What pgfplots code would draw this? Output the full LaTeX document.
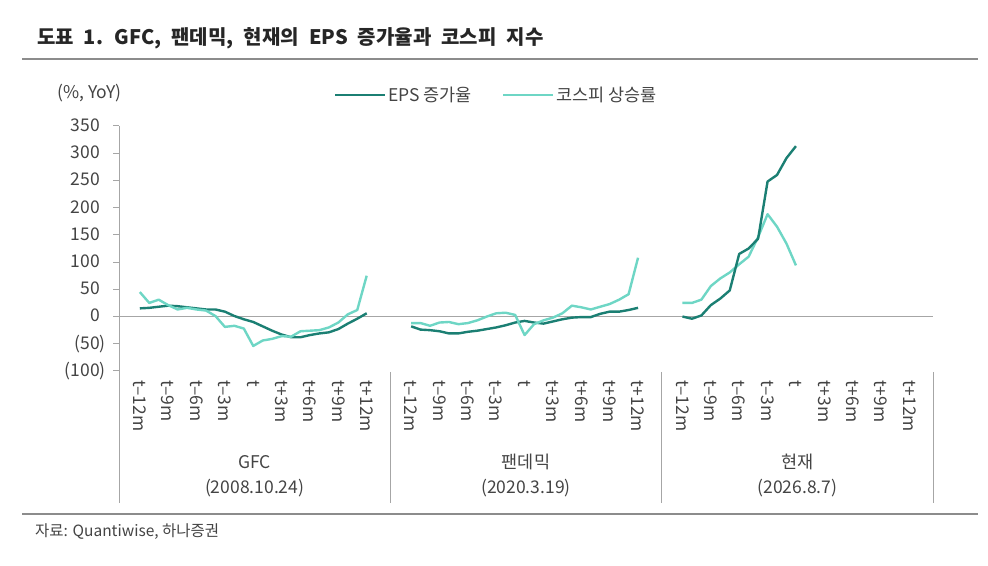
\documentclass[border=0pt]{standalone}
\usepackage{fontspec}
\setmainfont{Noto Sans CJK KR}
\usepackage{pgfplots}
\pgfplotsset{compat=1.18}
\usepackage{pgfplotstable}
\definecolor{epsc}{HTML}{1B7F73}
\definecolor{kosc}{HTML}{6ED6C5}
\definecolor{txt}{HTML}{444444}
\definecolor{axc}{HTML}{A6A6A6}
\definecolor{rulec}{HTML}{8C8C8C}

\pgfplotstableread{
m eps kospi
-12 15 45
-11 16 25
-10 18 31
-9 20 21
-8 19 13
-7 17 16
-6 15 13
-5 13 11
-4 13 1
-3 9 -19
-2 1 -17
-1 -5 -22
0 -10 -54
1 -18 -44
2 -26 -41
3 -33 -36
4 -38 -37
5 -38 -27
6 -34 -26
7 -31 -25
8 -29 -20
9 -23 -11
10 -13 4
11 -4 12
12 6 75
}\gfc

\pgfplotstableread{
m eps kospi
-12 -18 -12
-11 -24 -12
-10 -25 -17
-9 -27 -11
-8 -31 -10
-7 -31 -14
-6 -28 -12
-5 -26 -7
-4 -23 0
-3 -20 6
-2 -16 7
-1 -11 3
0 -8 -34
1 -11 -14
2 -13 -7
3 -9 -2
4 -5 6
5 -2 20
6 -1 17
7 -1 13
8 5 18
9 9 23
10 9 31
11 12 41
12 16 108
}\pandemic

\pgfplotstableread{
m eps kospi
-12 0 25
-11 -4 25
-10 2 31
-9 21 56
-8 33 70
-7 48 81
-6 115 96
-5 125 110
-4 143 146
-3 248 188
-2 260 165
-1 291 134
0 313 94
}\current

\newcommand{\fs}{\fontsize{17.5bp}{20bp}\selectfont}

\begin{document}
\begin{tikzpicture}[x=1bp,y=1bp]
\useasboundingbox (0,0) rectangle (988,566);
% title
\node[anchor=base west, inner sep=0, text=black!85, font=\fontsize{20bp}{23bp}\selectfont\bfseries] at (37,521) {\spaceskip=0.5em plus 0.1em\relax 도표 1. GFC, 팬데믹, 현재의 EPS 증가율과 코스피 지수};
\draw[rulec, line width=1.2bp] (22,507) -- (978,507);
\draw[rulec, line width=1.2bp] (22,52) -- (978,52);
% unit
\node[anchor=west, inner sep=0, text=txt, font=\fs] at (57,473) {(\%, YoY)};
% source
\node[anchor=west, inner sep=0, text=txt, font=\fontsize{15.5bp}{18bp}\selectfont] at (35,34) {자료: Quantiwise, 하나증권};

\begin{axis}[
  scale only axis, width=814bp, height=245bp,
  at={(119bp,195bp)}, anchor=south west,
  xmin=0, xmax=86.1, ymin=-100, ymax=350,
  clip=false,
  axis line style={draw=none},
  tick align=outside,
  major tick length=6bp,
  ytick pos=left, xtick pos=bottom,
  ytick={-100,-50,0,50,100,150,200,250,300,350},
  yticklabels={(100),(50),0\phantom{)},50\phantom{)},100\phantom{)},150\phantom{)},200\phantom{)},250\phantom{)},300\phantom{)},350\phantom{)}},
  ytick style={draw=axc, line width=1bp},
  xtick style={draw=none},
  xtick={2.2,5.2,8.2,11.2,14.2,17.2,20.2,23.2,26.2,30.9,33.9,36.9,39.9,42.9,45.9,48.9,51.9,54.9,59.6,62.6,65.6,68.6,71.6,74.6,77.6,80.6,83.6},
  xticklabels={t–12m,t–9m,t–6m,t–3m,t,t+3m,t+6m,t+9m,t+12m,t–12m,t–9m,t–6m,t–3m,t,t+3m,t+6m,t+9m,t+12m,t–12m,t–9m,t–6m,t–3m,t,t+3m,t+6m,t+9m,t+12m},
  every tick label/.append style={text=txt, font=\fs},
  yticklabel style={inner sep=0pt, xshift=-7bp},
  xticklabel style={rotate=-90, anchor=west, inner sep=3bp},
  legend columns=2,
  legend style={at={(0.26,1.1265)}, anchor=west, draw=none, fill=none, font=\fs, text=txt,
    /tikz/every even column/.append style={column sep=28bp}},
  legend cell align=left,
  legend image code/.code={\draw[#1] (0bp,0bp) -- (50bp,0bp);},
]
\draw[axc, line width=1bp] (axis cs:0,0) -- (axis cs:86.1,0);
\addplot[epsc, line width=2.4bp, line join=round] table[x expr=\thisrow{m}+14.2, y=eps] {\gfc};
\addlegendentry{EPS 증가율}
\addplot[kosc, line width=2.4bp, line join=round] table[x expr=\thisrow{m}+14.2, y=kospi] {\gfc};
\addlegendentry{코스피 상승률}
\addplot[epsc, line width=2.4bp, line join=round, forget plot] table[x expr=\thisrow{m}+42.9, y=eps] {\pandemic};
\addplot[kosc, line width=2.4bp, line join=round, forget plot] table[x expr=\thisrow{m}+42.9, y=kospi] {\pandemic};
\addplot[kosc, line width=2.4bp, line join=round, forget plot] table[x expr=\thisrow{m}+71.6, y=kospi] {\current};
\addplot[epsc, line width=2.4bp, line join=round, forget plot] table[x expr=\thisrow{m}+71.6, y=eps] {\current};
\end{axis}

% y axis line and group dividers
\draw[axc, line width=1bp] (119,440) -- (119,63);
\draw[axc, line width=1bp] (390.3,194) -- (390.3,63);
\draw[axc, line width=1bp] (661.7,194) -- (661.7,63);
\draw[axc, line width=1bp] (933,194) -- (933,63);
% group labels
\node[text=txt, font=\fs, inner sep=0] at (254.7,104) {GFC};
\node[text=txt, font=\fs, inner sep=0] at (254.7,78) {(2008.10.24)};
\node[text=txt, font=\fs, inner sep=0] at (526,104) {팬데믹};
\node[text=txt, font=\fs, inner sep=0] at (526,78) {(2020.3.19)};
\node[text=txt, font=\fs, inner sep=0] at (797.3,104) {현재};
\node[text=txt, font=\fs, inner sep=0] at (797.3,78) {(2026.8.7)};
\end{tikzpicture}
\end{document}
